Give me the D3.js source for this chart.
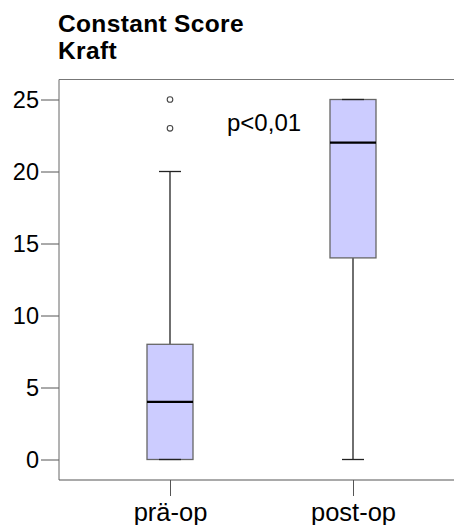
<!DOCTYPE html>
<html>
<head>
<meta charset="utf-8">
<script src="https://cdn.jsdelivr.net/npm/d3@7"></script>
<style>
  html, body { margin: 0; padding: 0; background: #fff; }
  svg { display: block; font-family: "Liberation Sans", Arial, sans-serif; }
</style>
</head>
<body>
<svg id="chart" width="454" height="525"></svg>
<script>
// Constant Score – Kraft, before and after surgery
const groups = ["prä-op", "post-op"];
const whiskerLow = [0, 0];
const q1 = [0, 14];
const median = [4, 22];
const q3 = [8, 25];
const whiskerHigh = [20, 25];
const outliers = [[25, 23], []];
const yTicks = [0, 5, 10, 15, 20, 25];
const titleLines = ["Constant Score", "Kraft"];
const note = "p<0,01";

const svg = d3.select("#chart");
const frame = { left: 59, top: 79.5, bottom: 480, right: 470 };

const y = d3.scaleLinear().domain([0, 25]).range([459.5, 99.5]);
const x = d3.scalePoint().domain(groups).range([170, 353]);
const boxW = 46;
const capW = 22;

// title (two lines)
svg.append("g").selectAll("text").data(titleLines).join("text")
  .attr("x", 58).attr("y", (d, i) => 32 + i * 26.5)
  .attr("font-size", 24.5).attr("font-weight", "bold").attr("fill", "#000")
  .attr("letter-spacing", 0.35)
  .text(d => d);

// frame top edge
svg.append("line")
  .attr("x1", frame.left).attr("x2", frame.right)
  .attr("y1", frame.top).attr("y2", frame.top)
  .attr("stroke", "#777").attr("stroke-width", 1);

// y axis
const yAxis = svg.append("g")
  .attr("transform", `translate(${frame.left},0)`)
  .call(d3.axisLeft(y).tickValues(yTicks).tickSize(18).tickPadding(2).tickSizeOuter(0));
yAxis.select(".domain").remove();
yAxis.append("line").attr("x1", 0).attr("x2", 0).attr("y1", frame.top).attr("y2", frame.bottom)
  .attr("stroke", "#666");
yAxis.selectAll(".tick line").attr("stroke", "#555");
yAxis.selectAll(".tick text").attr("font-size", 23.5).attr("fill", "#000")
  .attr("font-family", "Liberation Sans, Arial, sans-serif").attr("dy", "0.35em");

// x axis
const xAxis = svg.append("g")
  .attr("transform", `translate(0,${frame.bottom})`)
  .call(d3.axisBottom(x).tickSize(16).tickPadding(6).tickSizeOuter(0));
xAxis.select(".domain").remove();
xAxis.append("line").attr("x1", frame.left).attr("x2", frame.right).attr("y1", 0).attr("y2", 0)
  .attr("stroke", "#555");
xAxis.selectAll(".tick line").attr("stroke", "#555");
xAxis.selectAll(".tick text").attr("font-size", 25.5).attr("fill", "#000")
  .attr("font-family", "Liberation Sans, Arial, sans-serif").attr("dy", "0.76em");

// boxes
const data = groups.map((g, i) => ({
  g, lo: whiskerLow[i], q1: q1[i], med: median[i], q3: q3[i], hi: whiskerHigh[i], out: outliers[i]
}));
const bx = svg.append("g").selectAll("g").data(data).join("g");

bx.append("line")
  .attr("x1", d => x(d.g)).attr("x2", d => x(d.g))
  .attr("y1", d => y(d.q3)).attr("y2", d => y(d.hi))
  .attr("stroke", "#222").attr("stroke-width", 1.3);
bx.append("line")
  .attr("x1", d => x(d.g)).attr("x2", d => x(d.g))
  .attr("y1", d => y(d.q1)).attr("y2", d => y(d.lo))
  .attr("stroke", "#222").attr("stroke-width", 1.3);

bx.append("rect")
  .attr("x", d => x(d.g) - boxW / 2).attr("width", boxW)
  .attr("y", d => y(d.q3)).attr("height", d => y(d.q1) - y(d.q3))
  .attr("fill", "#ccccff").attr("stroke", "#666").attr("stroke-width", 1.3);

// whisker caps
bx.append("line")
  .attr("x1", d => x(d.g) - capW / 2).attr("x2", d => x(d.g) + capW / 2)
  .attr("y1", d => y(d.hi)).attr("y2", d => y(d.hi))
  .attr("stroke", "#222").attr("stroke-width", 1.3);
bx.append("line")
  .attr("x1", d => x(d.g) - capW / 2).attr("x2", d => x(d.g) + capW / 2)
  .attr("y1", d => y(d.lo)).attr("y2", d => y(d.lo))
  .attr("stroke", "#222").attr("stroke-width", 1.3);

// median
bx.append("line")
  .attr("x1", d => x(d.g) - boxW / 2).attr("x2", d => x(d.g) + boxW / 2)
  .attr("y1", d => y(d.med)).attr("y2", d => y(d.med))
  .attr("stroke", "#000").attr("stroke-width", 2.2);

// outliers
bx.selectAll("circle").data(d => d.out.map(v => ({ g: d.g, v }))).join("circle")
  .attr("cx", d => x(d.g)).attr("cy", d => y(d.v)).attr("r", 2.8)
  .attr("fill", "#fff").attr("stroke", "#444").attr("stroke-width", 1.1);

// significance note
svg.append("text")
  .attr("x", 227).attr("y", 131)
  .attr("font-size", 24).attr("fill", "#000")
  .text(note);
</script>
</body>
</html>
